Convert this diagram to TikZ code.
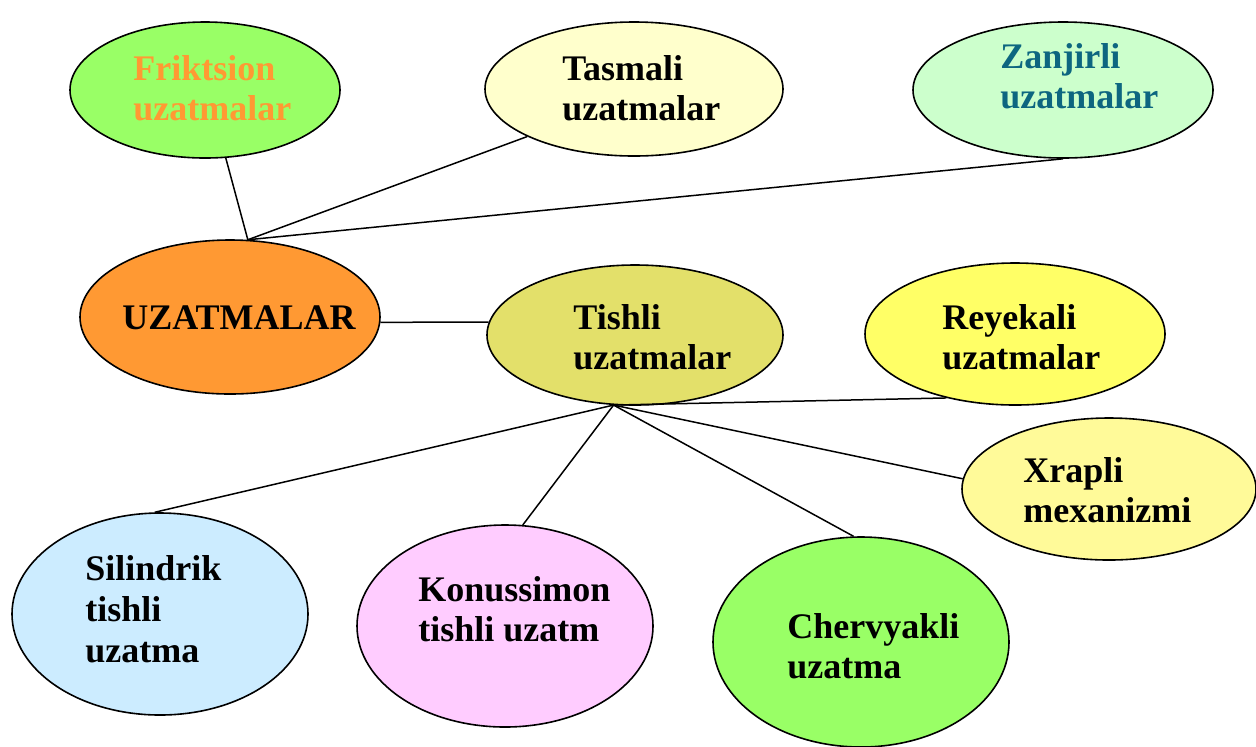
\documentclass[tikz,border=0pt]{standalone}
\usepackage{fontspec}
\setmainfont{Liberation Serif}
\usepackage{tikz}
\usetikzlibrary{shapes.geometric}

\definecolor{yashil}{HTML}{99FF66}
\definecolor{ochsariq}{HTML}{FFFFCC}
\definecolor{ochyashil}{HTML}{CCFFCC}
\definecolor{apelsin}{HTML}{FF9933}
\definecolor{zaytun}{HTML}{E3E06A}
\definecolor{sariq}{HTML}{FFFF66}
\definecolor{limon}{HTML}{FFFA99}
\definecolor{havorang}{HTML}{CCECFF}
\definecolor{pushti}{HTML}{FFCCFF}
\definecolor{moviy}{HTML}{0D6680}

\tikzset{
	oval/.style={ellipse, draw=black, line width=0.8pt, inner sep=0pt},
	yozuv/.style={anchor=north west, inner sep=0pt, align=left, font=\fontsize{18}{20}\selectfont\bfseries},
	bog/.style={line width=0.75pt}
}

\begin{document}
\begin{tikzpicture}[x=0.5pt, y=-0.5pt]
		\useasboundingbox (0,0) rectangle (1256,746);
		% ovallar
		\node[oval, fill=yashil, minimum width=135pt, minimum height=68pt] (frik) at (205,90) {};
		\node[oval, fill=ochsariq, minimum width=149pt, minimum height=67pt] (tasm) at (634,89) {};
		\node[oval, fill=ochyashil, minimum width=150pt, minimum height=68pt] (zanj) at (1063,90) {};
		\node[oval, fill=apelsin, minimum width=150pt, minimum height=77pt] (uzat) at (230,317) {};
		\node[oval, fill=zaytun, minimum width=148pt, minimum height=70pt] (tish) at (635,335) {};
		\node[oval, fill=sariq, minimum width=150pt, minimum height=71pt] (reye) at (1015,334) {};
		\node[oval, fill=limon, minimum width=147pt, minimum height=71pt] (xrap) at (1109,489) {};
		\node[oval, fill=havorang, minimum width=148pt, minimum height=101pt] (silin) at (160,614) {};
		\node[oval, fill=pushti, minimum width=148pt, minimum height=101pt] (konus) at (505,626) {};
		\node[oval, fill=yashil, minimum width=148pt, minimum height=105pt] (cherv) at (861,642) {};

		% yozuvlar
		\node[yozuv, text=apelsin] (frikt) at (133,55) {Friktsion\\uzatmalar};
		\node[yozuv] (tasmt) at (562,55) {Tasmali\\uzatmalar};
		\node[yozuv, text=moviy] (zanjt) at (1000,43) {Zanjirli\\uzatmalar};
		\node[yozuv] (uzatt) at (122,305) {UZATMALAR};
		\node[yozuv] (tisht) at (573,304) {Tishli\\uzatmalar};
		\node[yozuv] (reyet) at (942,304) {Reyekali\\uzatmalar};
		\node[yozuv] (xrapt) at (1023,457) {Xrapli\\mexanizmi};
		\node[yozuv, font=\fontsize{18}{20.5}\selectfont\bfseries] (silint) at (85,555) {Silindrik\\tishli\\uzatma};
		\node[yozuv] (konust) at (418,576) {Konussimon\\tishli uzatm};
		\node[yozuv] (chervt) at (787,613) {Chervyakli\\uzatma};

		% bog'lanishlar
		\coordinate (hub) at (tish.-107);
		\draw[bog] (frik.-73) -- (uzat.77);
		\draw[bog] (tasm.-156) -- (uzat.77);
		\draw[bog] (zanj.south) -- (uzat.77);
		\draw[bog] (uzat.-2) -- (tish.175);
		\draw[bog] (hub) -- (reye.-137);
		\draw[bog] (hub) -- (xrap.176);
		\draw[bog] (hub) -- (cherv.94);
		\draw[bog] (hub) -- (konus.80);
		\draw[bog] (hub) -- (silin.93);
	\end{tikzpicture}
\end{document}
